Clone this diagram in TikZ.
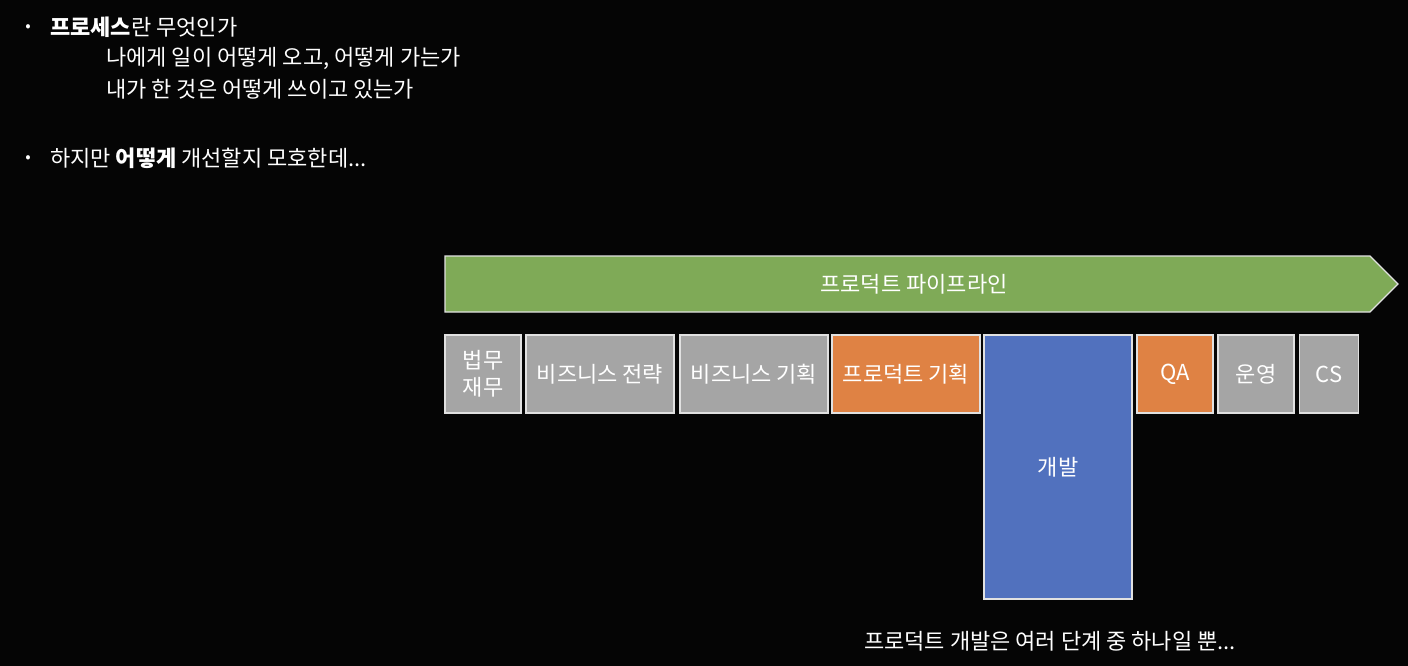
\documentclass[tikz,border=0pt]{standalone}
\usepackage{fontspec}
\setmainfont{Noto Sans CJK KR}
\definecolor{bgblack}{RGB}{5, 5, 5}
\definecolor{pipegreen}{RGB}{127, 170, 87}
\definecolor{stagegray}{RGB}{165, 165, 165}
\definecolor{stageorange}{RGB}{223, 130, 68}
\definecolor{devblue}{RGB}{81, 113, 190}
\definecolor{edgewhite}{RGB}{225, 225, 225}
\usetikzlibrary{positioning}

\begin{document}
\begin{tikzpicture}[x=1pt, y=-1pt,
  txt/.style={anchor=west, text=white, inner sep=0pt, font=\fontsize{22}{26}\selectfont},
  dot/.style={text=white, inner sep=0pt, font=\fontsize{16}{18}\selectfont},
  stage/.style={draw=edgewhite, line width=1.3pt, text=white, inner sep=0pt, align=center,
    minimum height=78pt, font=\fontsize{22}{27}\selectfont}]
  % background and size
  \fill[bgblack] (0,0) rectangle (1408,666);
  \useasboundingbox (0,0) rectangle (1408,666);

  % bullets
  \node[dot] (b1) at (28, 28) {•};
  \node[txt] (q1) at (50, 27) {\textbf{프로세스}란 무엇인가};
  \node[txt] (q1a) at (106, 58) {나에게 일이 어떻게 오고, 어떻게 가는가};
  \node[txt] (q1b) at (106, 89) {내가 한 것은 어떻게 쓰이고 있는가};
  \node[dot] (b2) at (28, 159) {•};
  \node[txt] (q2) at (50, 158) {하지만 \textbf{어떻게} 개선할지 모호한데...};

  % product pipeline arrow
  \draw[draw=edgewhite, line width=1.3pt, fill=pipegreen]
    (445,256) -- (1370,256) -- (1398,284) -- (1370,312) -- (445,312) -- cycle;
  \node[txt, anchor=center] (pipe) at (914, 284) {프로덕트 파이프라인};

  % stages
  \node[stage, fill=stagegray, minimum width=76pt] (legal) at (483, 374) {법무\\재무};
  \node[stage, fill=stagegray, minimum width=148pt] (strategy) at (600, 374) {비즈니스 전략};
  \node[stage, fill=stagegray, minimum width=148pt] (bizplan) at (754, 374) {비즈니스 기획};
  \node[stage, fill=stageorange, minimum width=148pt] (prodplan) at (906, 374) {프로덕트 기획};
  \node[stage, fill=devblue, minimum width=148pt, minimum height=264pt] (dev) at (1058, 467) {개발};
  \node[stage, fill=stageorange, minimum width=76pt] (qa) at (1175, 374) {QA};
  \node[stage, fill=stagegray, minimum width=76pt] (ops) at (1256, 374) {운영};
  \node[stage, fill=stagegray, minimum width=59pt] (cs) at (1329, 374) {CS};

  % caption
  \node[txt, anchor=center] (note) at (1050, 641) {프로덕트 개발은 여러 단계 중 하나일 뿐...};
\end{tikzpicture}
\end{document}
